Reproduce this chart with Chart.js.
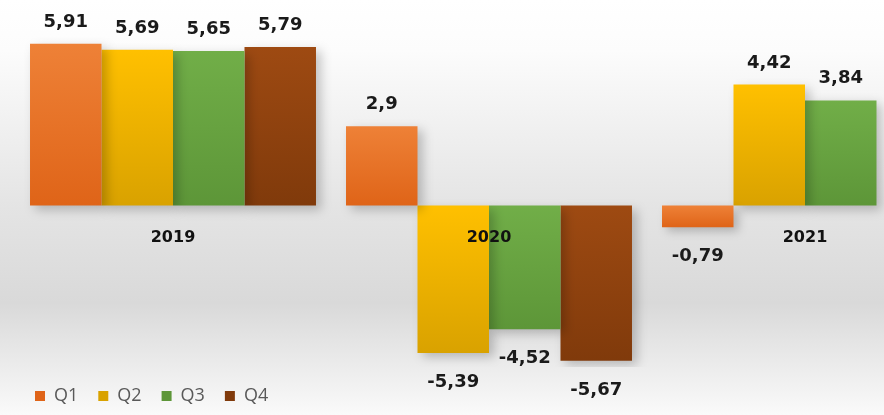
<!DOCTYPE html>
<html>
<head>
<meta charset="utf-8">
<script src="https://cdn.jsdelivr.net/npm/chart.js@4"></script>
<style>
  html, body { margin: 0; padding: 0; overflow: hidden; width: 884px; height: 415px; background: #fff; }
  canvas { display: block; }
</style>
</head>
<body>
<canvas id="c" width="980" height="415"></canvas>
<script>
const categories = ['2019', '2020', '2021'];
const seriesNames = ['Q1', 'Q2', 'Q3', 'Q4'];
const q1 = [5.91, 2.9, -0.79];
const q2 = [5.69, -5.39, 4.42];
const q3 = [5.65, -4.52, 3.84];
const q4 = [5.79, -5.67, null];
const seriesValues = [q1, q2, q3, q4];

const topColors = ['#EE8137', '#FFC000', '#71AE48', '#9E4A12'];
const bottomColors = ['#DF6418', '#D9A200', '#5D9638', '#803A0B'];

function barFill(i) {
  return function (ctx) {
    if (ctx.type !== 'data') return topColors[i];
    const ys = ctx.chart.scales.y;
    const v = ctx.raw;
    if (!ys || v == null) return topColors[i];
    const t = ys.getPixelForValue(Math.max(v, 0));
    const b = ys.getPixelForValue(Math.min(v, 0));
    if (!isFinite(t) || !isFinite(b) || t === b) return topColors[i];
    const g = ctx.chart.ctx.createLinearGradient(0, t, 0, b);
    g.addColorStop(0, topColors[i]);
    g.addColorStop(1, bottomColors[i]);
    return g;
  };
}

const bgPlugin = {
  id: 'bg',
  beforeDraw(chart) {
    const c = chart.ctx;
    const g = c.createLinearGradient(0, 0, 0, chart.height);
    g.addColorStop(0, '#ffffff');
    g.addColorStop(0.12, '#fcfcfc');
    g.addColorStop(0.5, '#e4e4e4');
    g.addColorStop(0.73, '#d9d9d9');
    g.addColorStop(1, '#fafafa');
    c.save();
    c.fillStyle = g;
    c.fillRect(0, 0, chart.width, chart.height);
    c.restore();
  }
};

const shadowPlugin = {
  id: 'shadow',
  beforeDatasetsDraw(chart) {
    const c = chart.ctx;
    c.save();
    c.shadowColor = 'rgba(0,0,0,0.22)';
    c.shadowBlur = 10;
    c.shadowOffsetX = 5;
    c.shadowOffsetY = 4;
  },
  afterDatasetsDraw(chart) {
    chart.ctx.restore();
  }
};

const labelPlugin = {
  id: 'labels',
  afterDatasetsDraw(chart) {
    const c = chart.ctx;
    c.save();
    c.shadowColor = 'transparent';
    c.fillStyle = '#1a1a1a';
    c.textAlign = 'center';
    c.textBaseline = 'alphabetic';
    c.font = 'bold 18px "DejaVu Sans"';
    chart.data.datasets.forEach((ds, di) => {
      const meta = chart.getDatasetMeta(di);
      meta.data.forEach((el, i) => {
        const v = ds.data[i];
        if (v == null) return;
        const txt = String(v).replace('.', ',');
        const y = v >= 0 ? el.y - 17 : el.y + 34;
        c.fillText(txt, el.x, y);
      });
    });
    // category labels next to the zero line
    const xs = chart.scales.x, ys = chart.scales.y;
    const zero = ys.getPixelForValue(0);
    c.font = 'bold 16px "DejaVu Sans"';
    c.fillStyle = '#111111';
    chart.data.labels.forEach((lab, i) => {
      c.fillText(lab, xs.getPixelForValue(i), zero + 36);
    });
    c.restore();
  }
};

new Chart(document.getElementById('c'), {
  type: 'bar',
  data: {
    labels: categories,
    datasets: seriesNames.map((n, i) => ({
      label: n,
      data: seriesValues[i],
      backgroundColor: barFill(i),
      borderWidth: 0,
      categoryPercentage: 0.905,
      barPercentage: 1.0
    }))
  },
  options: {
    responsive: false,
    animation: false,
    devicePixelRatio: 1,
    layout: { padding: { left: 15, right: 17, top: 14, bottom: 0 } },
    scales: {
      x: { display: false },
      y: { display: false, min: -5.9, max: 7 }
    },
    plugins: {
      legend: {
        position: 'bottom',
        align: 'start',
        labels: {
          boxWidth: 10,
          boxHeight: 10,
          padding: 20,
          color: '#595959',
          font: { family: '"Open Sans"', size: 18 }
        }
      },
      tooltip: { enabled: false }
    }
  },
  plugins: [bgPlugin, shadowPlugin, labelPlugin]
});
</script>
</body>
</html>
